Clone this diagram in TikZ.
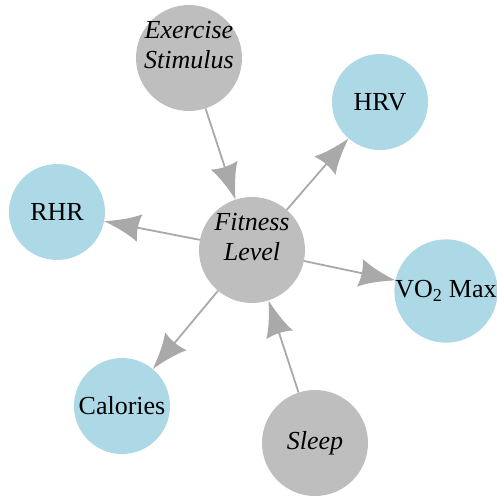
\documentclass[tikz,border=0pt]{standalone}
\usepackage{fontspec}
\setmainfont{Liberation Serif}
\usetikzlibrary{arrows.meta}
\definecolor{nodegray}{HTML}{BEBEBE}
\definecolor{nodeblue}{HTML}{ADD8E6}
\definecolor{edgegray}{HTML}{A9A9A9}
\pgfdeclarearrow{
  name = Flare,
  setup code = {
    \pgfarrowssettipend{0pt}
    \pgfarrowssetbackend{-36pt}
    \pgfarrowssetlineend{-32pt}
    \pgfarrowsupperhullpoint{-36pt}{14pt}
    \pgfarrowsupperhullpoint{0pt}{0pt}
  },
  drawing code = {
    \pgfpathmoveto{\pgfqpoint{0pt}{0pt}}
    \pgfpathcurveto{\pgfqpoint{-15pt}{4pt}}{\pgfqpoint{-27pt}{8.5pt}}{\pgfqpoint{-36pt}{14pt}}
    \pgfpathcurveto{\pgfqpoint{-33.5pt}{4.5pt}}{\pgfqpoint{-33.5pt}{-4.5pt}}{\pgfqpoint{-36pt}{-14pt}}
    \pgfpathcurveto{\pgfqpoint{-27pt}{-8.5pt}}{\pgfqpoint{-15pt}{-4pt}}{\pgfqpoint{0pt}{0pt}}
    \pgfpathclose
    \pgfusepathqfill
  }
}
\newcommand{\twolines}[2]{\raisebox{4.5pt}[0pt][0pt]{\begin{tabular}{@{}c@{}}#1\\#2\end{tabular}}}
\tikzset{
  base/.style={circle, inner sep=0pt, align=center, font=\fontsize{26}{30}\selectfont},
  latent/.style={base, fill=nodegray, minimum size=106pt, font=\fontsize{26}{30}\selectfont\itshape},
  observed/.style={base, fill=nodeblue, minimum size=96pt},
  edge/.style={draw=edgegray, line width=1.8pt, -{Flare}, fill=edgegray}
}
\begin{document}
\begin{tikzpicture}[x=1pt, y=-1pt]
\useasboundingbox (0,0) rectangle (496,504);
\node[latent] (ex) at (189,58) {\twolines{Exercise}{Stimulus}};
\node[observed] (hrv) at (380,102) {HRV};
\node[observed] (rhr) at (57,212) {RHR};
\node[latent] (fit) at (252,250) {\twolines{Fitness}{Level}};
\node[observed] (vo2) at (446,291) {VO\textsubscript{2} Max};
\node[observed] (cal) at (122,406) {Calories};
\node[latent] (sleep) at (315,443) {Sleep};
\draw[edge] (ex) -- (fit);
\draw[edge] (fit) -- (hrv);
\draw[edge] (fit) -- (rhr);
\draw[edge] (fit) -- (vo2);
\draw[edge] (fit) -- (cal);
\draw[edge] (sleep) -- (fit);
\end{tikzpicture}
\end{document}
